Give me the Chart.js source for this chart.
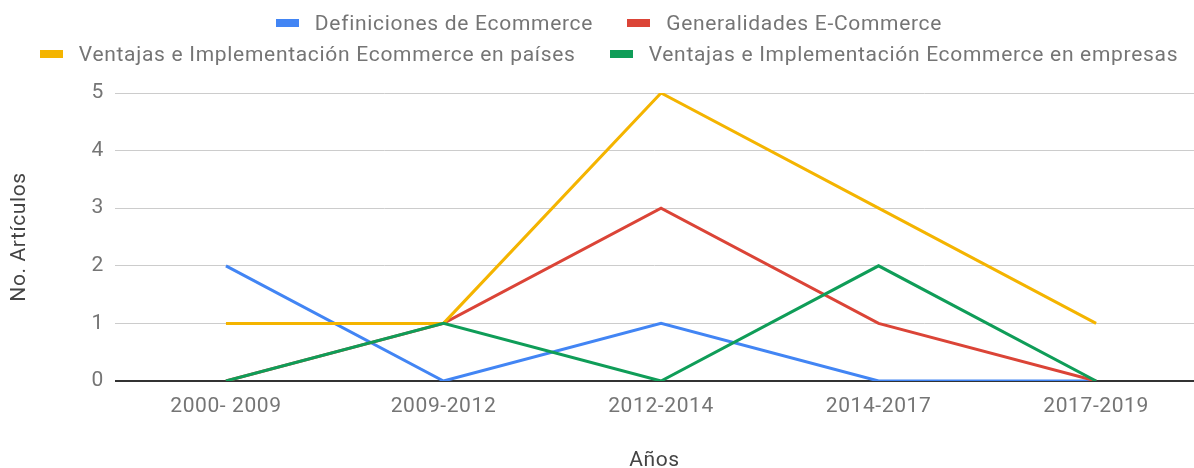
<!DOCTYPE html>
<html>
<head>
<meta charset="utf-8">
<script src="https://cdn.jsdelivr.net/npm/chart.js@4/dist/chart.umd.min.js"></script>
<style>
  html, body { margin: 0; padding: 0; background: #fff; }
  #wrap { position: relative; width: 1194px; height: 468px; }
  #legend {
    position: absolute; left: 12px; top: 7px; width: 1194px;
    font-family: Roboto, sans-serif; font-size: 21px; color: #757575;
    letter-spacing: 0.7px;
  }
  .row { display: flex; justify-content: center; height: 31px; align-items: center; }
  .item { display: flex; align-items: center; margin: 0 17px; white-space: nowrap; }
  .box { width: 23px; height: 8px; margin-right: 16px; }
</style>
</head>
<body>
<div id="wrap">
  <canvas id="lineChart" width="1194" height="468"></canvas>
  <div id="legend"></div>
</div>
<script>
// Chart data
const categories = ['2000- 2009', '2009-2012', '2012-2014', '2014-2017', '2017-2019'];
const seriesNames = [
    'Definiciones de Ecommerce',
    'Generalidades E-Commerce',
    'Ventajas e Implementación Ecommerce en países',
    'Ventajas e Implementación Ecommerce en empresas'
];
const definiciones = [2, 0, 1, 0, 0];
const generalidades = [0, 1, 3, 1, 0];
const ventajasPaises = [1, 1, 5, 3, 1];
const ventajasEmpresas = [0, 1, 0, 2, 0];
const yTicks = [0, 1, 2, 3, 4, 5];

const colors = ['#4285F4', '#DB4437', '#F4B400', '#0F9D58'];
const allValues = [definiciones, generalidades, ventajasPaises, ventajasEmpresas];

// HTML legend, two rows like the original
const legendRows = [[0, 1], [2, 3]];
const legendEl = document.getElementById('legend');
legendRows.forEach(row => {
    const rowEl = document.createElement('div');
    rowEl.className = 'row';
    row.forEach(i => {
        const item = document.createElement('div');
        item.className = 'item';
        item.innerHTML = `<span class="box" style="background:${colors[i]}"></span><span>${seriesNames[i]}</span>`;
        rowEl.appendChild(item);
    });
    legendEl.appendChild(rowEl);
});

const datasets = allValues.map((values, i) => ({
    label: seriesNames[i],
    data: values.map((v, idx) => ({ x: idx, y: v })),
    borderColor: colors[i],
    backgroundColor: colors[i],
    borderWidth: 3,
    pointRadius: 0,
    tension: 0,
    order: 3 - i
}));

// slightly wider text, the original is a bit stretched
const spacingPlugin = {
    id: 'spacing',
    beforeUpdate: (chart) => { chart.ctx.letterSpacing = '0.6px'; },
    beforeDraw: (chart) => { chart.ctx.letterSpacing = '0.6px'; }
};

const tickFont = { family: 'Roboto', size: 21 };

const ctx = document.getElementById('lineChart').getContext('2d');
new Chart(ctx, {
    type: 'line',
    data: { datasets: datasets },
    plugins: [spacingPlugin],
    options: {
        responsive: false,
        animation: false,
        layout: { padding: { top: 93, right: 0, left: 0, bottom: 0 } },
        plugins: {
            legend: { display: false },
            tooltip: { enabled: false }
        },
        scales: {
            x: {
                type: 'linear',
                min: -0.51,
                max: 4.45,
                grid: { display: false, drawTicks: false },
                border: { display: false },
                afterBuildTicks: (scale) => {
                    scale.ticks = categories.map((c, i) => ({ value: i }));
                },
                afterFit: (scale) => { scale.height = 87; },
                ticks: {
                    padding: 13,
                    maxRotation: 0,
                    autoSkip: false,
                    color: '#757575',
                    font: tickFont,
                    callback: (value) => categories[value]
                },
                title: {
                    display: true,
                    text: 'Años',
                    color: '#444',
                    font: tickFont,
                    padding: { top: 0, bottom: -5 }
                }
            },
            y: {
                min: 0,
                max: 5,
                afterBuildTicks: (scale) => {
                    scale.ticks = yTicks.map(v => ({ value: v }));
                },
                afterFit: (scale) => { scale.width = 115; },
                grid: {
                    drawTicks: false,
                    color: (c) => c.tick && c.tick.value === 0 ? '#333' : '#ccc',
                    lineWidth: (c) => c.tick && c.tick.value === 0 ? 2 : 1
                },
                border: { display: false },
                ticks: {
                    padding: 11,
                    color: '#757575',
                    font: tickFont
                },
                title: {
                    display: true,
                    text: 'No. Artículos',
                    color: '#444',
                    font: tickFont,
                    padding: { top: 7, bottom: 0 }
                }
            }
        }
    }
});
</script>
</body>
</html>
